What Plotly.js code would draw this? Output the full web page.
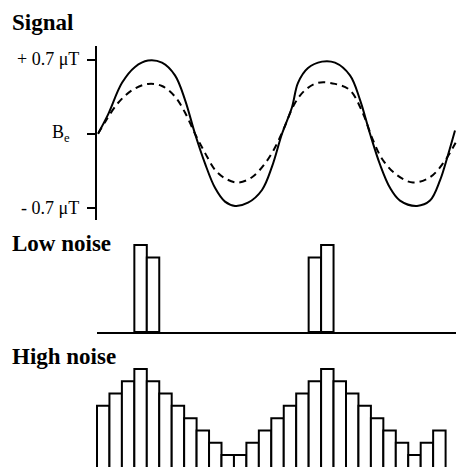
<!DOCTYPE html>
<html><head><meta charset="utf-8">
<script src="https://cdn.plot.ly/plotly-3.0.1.min.js"></script>
<style>html,body{margin:0;padding:0;background:#fff;}#chart{width:457px;height:467px;}</style>
</head><body><div id="chart"></div>
<script>
// Signal panel: phase (degrees) and field values (μT relative to Be)
const strongPhase = [0,20,48,74,100,128,154,174,194,214,234,254,274,300,328,348,368,388,400,420,448,474,504,524,544,564,584,604,638,664,684,700,714];
const strongSignal = [0,0.18,0.48,0.63,0.69,0.67,0.55,0.32,0.0,-0.28,-0.51,-0.64,-0.68,-0.65,-0.53,-0.31,0.0,0.25,0.48,0.62,0.68,0.67,0.55,0.32,0.0,-0.29,-0.51,-0.63,-0.68,-0.63,-0.44,-0.2,0.03];
const weakPhase = [0,14,40,68,100,128,154,174,194,214,234,254,280,308,334,354,370,394,414,440,474,504,530,550,570,598,630,664,690,710,718];
const weakSignal = [0,0.11,0.29,0.41,0.47,0.45,0.35,0.2,0.0,-0.18,-0.34,-0.42,-0.46,-0.41,-0.28,-0.13,0.03,0.29,0.41,0.48,0.47,0.41,0.19,-0.06,-0.25,-0.39,-0.46,-0.41,-0.28,-0.13,-0.06];
const signalTickVals = [0.7, 0, -0.7];
const signalTickText = ["+ 0.7 \u03bcT", "B<sub>e</sub>", "- 0.7 \u03bcT"];

// Histogram bins (28 bins) and counts (null = empty bin, no bar drawn)
const bins = Array.from({length: 28}, (_, i) => i);
const lowNoiseCounts = [null,null,null,7,6,null,null,null,null,null,null,null,null,null,null,null,null,6,7,null,null,null,null,null,null,null,null,null];
const highNoiseCounts = [6,7,8,9,8,7,6,5,4,3,2,2,3,4,5,6,7,8,9,8,7,6,5,4,3,2,3,4];

const panelTitles = ["Signal", "Low noise", "High noise"];

const H = 467, W = 457;
const py = p => 1 - p / H;
const px = p => p / W;

const traces = [
  {x: strongPhase, y: strongSignal, type: 'scatter', mode: 'lines',
   line: {color: '#000', width: 2, shape: 'spline', smoothing: 1}, xaxis: 'x', yaxis: 'y'},
  {x: weakPhase, y: weakSignal, type: 'scatter', mode: 'lines',
   line: {color: '#000', width: 2, dash: '7px,5px', shape: 'spline', smoothing: 1}, xaxis: 'x', yaxis: 'y'},
  {x: bins, y: lowNoiseCounts, type: 'bar', width: 1,
   marker: {color: '#fff', line: {color: '#000', width: 2}}, xaxis: 'x2', yaxis: 'y2'},
  {x: bins, y: highNoiseCounts, type: 'bar', width: 1,
   marker: {color: '#fff', line: {color: '#000', width: 2}}, xaxis: 'x3', yaxis: 'y3'}
];

const hidden = {showgrid: false, zeroline: false, showticklabels: false, ticks: '', showline: false};

const labelFont = {family: 'Liberation Serif, Times New Roman, serif', size: 18, color: '#000'};
const titleFont = {family: 'Liberation Serif, Times New Roman, serif', size: 23, color: '#000'};

const annotations = [];
const labelX = [81, 72, 81];
signalTickVals.forEach((v, i) => {
  annotations.push({xref: 'paper', yref: 'y', x: px(labelX[i]), y: v, xanchor: 'right', yanchor: 'middle',
    text: signalTickText[i], showarrow: false, font: labelFont});
});
const titleTops = [8, 229, 342];
panelTitles.forEach((t, i) => {
  annotations.push({xref: 'paper', yref: 'paper', x: px(10), y: py(titleTops[i]), xanchor: 'left', yanchor: 'top',
    text: '<b>' + t + '</b>', showarrow: false, font: titleFont});
});

const layout = {
  width: W, height: H,
  margin: {l: 0, r: 0, t: 0, b: 0, pad: 0},
  paper_bgcolor: '#fff', plot_bgcolor: 'rgba(0,0,0,0)',
  showlegend: false,
  bargap: 0,
  xaxis: Object.assign({}, hidden, {domain: [px(97.3), 1], range: [-1.4, 718], anchor: 'y'}),
  yaxis: Object.assign({}, hidden, {domain: [py(220), py(46)], range: [-0.8131, 0.8273], anchor: 'x',
    showline: true, linewidth: 2, linecolor: '#000', ticks: 'outside', ticklen: 8, tickwidth: 2, tickcolor: '#000',
    tickvals: signalTickVals}),
  xaxis2: Object.assign({}, hidden, {domain: [px(97), px(456)], range: [-0.5, 28.335], anchor: 'y2',
    showline: true, linewidth: 2, linecolor: '#000'}),
  yaxis2: Object.assign({}, hidden, {domain: [py(332), py(238)], range: [0, 7.56], anchor: 'x2'}),
  xaxis3: Object.assign({}, hidden, {domain: [px(68.55), 1], range: [-2.785, 28.416], anchor: 'y3'}),
  yaxis3: Object.assign({}, hidden, {domain: [0, py(362)], range: [1.025, 9.57], anchor: 'x3'}),
  annotations: annotations
};

Plotly.newPlot('chart', traces, layout, {staticPlot: true, displayModeBar: false});
</script>
</body></html>
